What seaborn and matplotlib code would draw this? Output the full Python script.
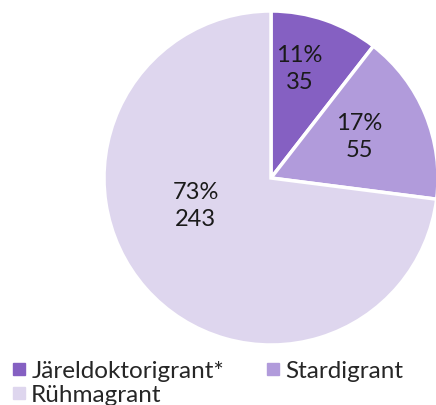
import matplotlib.pyplot as plt
import matplotlib.lines as mlines
import seaborn as sns

categories = ["Järeldoktorigrant*", "Stardigrant", "Rühmagrant"]
counts = [35, 55, 243]
percents = ["11%", "17%", "73%"]
colors = ["#8560c2", "#b19bdb", "#ded6ee"]

sns.set_theme(style="white")
plt.rcParams["font.family"] = ["Lato", "DejaVu Sans"]

fig = plt.figure(figsize=(4.36, 4.06), dpi=100)
ax = fig.add_axes([104 / 436, 60 / 406, 334 / 436, 334 / 406])
wedges, _ = ax.pie(counts, colors=colors, startangle=90, counterclock=False,
                   radius=1.0, wedgeprops=dict(edgecolor="white", linewidth=2.5))
ax.set_xlim(-1, 1)
ax.set_ylim(-1, 1)
ax.set_aspect("equal")
ax.axis("off")

# label spots (axes data coords), tuned to the reference
label_pos = [(0.17, 0.66), (0.53, 0.25), (-0.45, -0.16)]
for (x, y), p, c in zip(label_pos, percents, counts):
    ax.text(x, y, f"{p}\n{c}", ha="center", va="center", fontsize=17,
            color="#1a1a1a", linespacing=1.35)

handles = [mlines.Line2D([], [], marker="s", linestyle="none", color=c,
                         markersize=8) for c in colors]
order = [0, 2, 1]
fig.legend([handles[i] for i in order], [categories[i] for i in order],
           ncol=2, loc="lower left", bbox_to_anchor=(-0.012, -0.037), frameon=False,
           fontsize=17.5, handletextpad=0.1, columnspacing=1.6,
           labelspacing=0.13, handlelength=0.8, borderaxespad=0.2)

fig.savefig("out.png", dpi=100)
